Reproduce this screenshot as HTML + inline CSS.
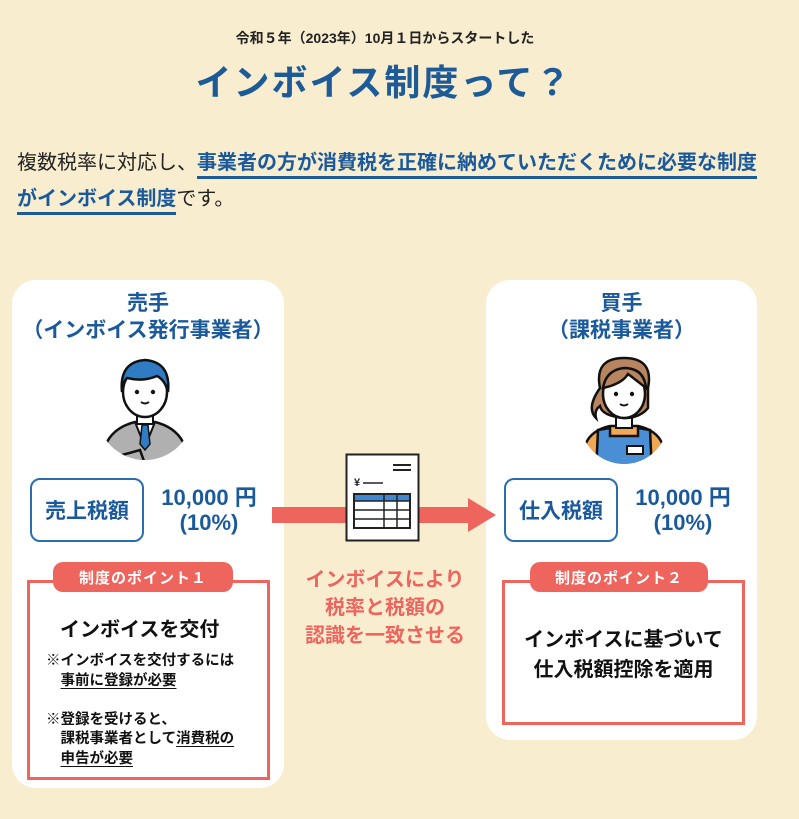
<!DOCTYPE html>
<html><head><meta charset="utf-8">
<style>
*{margin:0;padding:0;box-sizing:border-box}
body{width:799px;height:819px;background:#f8edcf;position:relative;overflow:hidden;font-family:"Liberation Sans","Noto Sans CJK JP",sans-serif;font-weight:bold}
.a{position:absolute;white-space:nowrap}
.blue{color:#1a5a9c}
.red{color:#ee655e}
.card{position:absolute;background:#fff;border-radius:24px}
.tbox{position:absolute;border:2px solid #2a6db0;border-radius:10px;background:#fff;color:#1a5a9c;font-size:20px;display:flex;align-items:center;justify-content:center}
.pbox{position:absolute;border:3px solid #ee655e;background:#fff}
.pill{position:absolute;background:#ee655e;color:#fff;border-radius:10px;font-size:15px;display:flex;align-items:center;justify-content:center;letter-spacing:1px}
.c{text-align:center}
u{text-decoration:underline;text-underline-offset:3px}
</style></head><body>
<div class="a c" style="left:0;width:770px;top:28px;font-size:14px;color:#222">令和５年（2023年）10月１日からスタートした</div>
<div class="a c blue" style="left:0;width:768px;top:54px;font-size:36px;letter-spacing:2px;color:#1c5a98">インボイス制度って？</div>
<div class="a" style="left:17px;top:145px;font-size:20px;font-weight:normal;color:#222;line-height:36px">複数税率に対応し、<span class="blue" style="font-weight:bold;border-bottom:3px solid #1c5a98;padding-bottom:2px">事業者の方が消費税を正確に納めていただくために必要な制度</span><br><span class="blue" style="font-weight:bold;border-bottom:3px solid #1c5a98;padding-bottom:2px">がインボイス制度</span>です。</div>

<div class="card" style="left:12px;top:280px;width:272px;height:508px"></div>
<div class="card" style="left:486px;top:280px;width:271px;height:460px"></div>

<div class="a c blue" style="left:12px;width:272px;top:290px;font-size:21px;line-height:27px">売手<br>（インボイス発行事業者）</div>
<div class="a c blue" style="left:486px;width:271px;top:290px;font-size:21px;line-height:27px">買手<br>（課税事業者）</div>

<!-- man -->
<svg class="a" style="left:95px;top:352px" width="100" height="120" viewBox="0 0 100 120">
<defs><clipPath id="cm"><circle cx="50" cy="60" r="48"/></clipPath></defs>
<g clip-path="url(#cm)">
<path d="M8 120 L12 90 Q20 75 40 70 L60 70 Q80 75 88 90 L92 120Z" fill="#b0b0b0" stroke="#111" stroke-width="2.5"/>
<path d="M40 70 L50 95 L60 70Z" fill="#fff" stroke="#111" stroke-width="2"/>
<path d="M47 73 L53 73 L55 92 L50 98 L45 92Z" fill="#2f7cc4" stroke="#111" stroke-width="1.5"/>
<path d="M20 105 L45 98 L50 112 L28 118Z" fill="#b0b0b0" stroke="#111" stroke-width="2.5"/>
</g>
<rect x="42" y="58" width="16" height="14" fill="#fff" stroke="#111" stroke-width="2"/>
<ellipse cx="50" cy="40" rx="22" ry="25" fill="#fff" stroke="#111" stroke-width="2.5"/>
<path d="M27 40 Q24 10 50 8 Q76 10 73 40 Q70 28 62 24 Q48 30 32 26 Q28 30 27 40Z" fill="#2f7cc4" stroke="#111" stroke-width="2.5"/>
<circle cx="42" cy="40" r="2.2" fill="#111"/><circle cx="58" cy="40" r="2.2" fill="#111"/>
<path d="M46 50 Q50 53 54 50" stroke="#111" stroke-width="2" fill="none"/>
</svg>

<!-- woman -->
<svg class="a" style="left:582px;top:348px" width="84" height="125" viewBox="0 0 84 125">
<defs><clipPath id="cw"><circle cx="42" cy="72" r="44"/></clipPath></defs>
<g clip-path="url(#cw)">
<path d="M0 125 L4 95 Q10 82 28 78 L56 78 Q74 82 80 95 L84 125Z" fill="#f0a854" stroke="#111" stroke-width="2.5"/>
<path d="M14 125 L16 82 L28 80 L28 88 L56 88 L56 80 L68 82 L70 125Z" fill="#4a8fd6" stroke="#111" stroke-width="2.5"/>
<rect x="45" y="98" width="16" height="8" fill="#fff" stroke="#111" stroke-width="2"/>
</g>
<rect x="34" y="64" width="16" height="16" fill="#fff" stroke="#111" stroke-width="2"/>
<path d="M18 40 Q12 10 42 10 Q72 10 66 40 L66 60 Q58 70 42 70 Q20 68 18 58 Q12 62 14 70 Q4 60 18 40Z" fill="#b88560" stroke="#111" stroke-width="2.5"/>
<ellipse cx="42" cy="46" rx="21" ry="24" fill="#fff" stroke="#111" stroke-width="2.5"/>
<path d="M21 40 Q24 22 42 20 Q62 20 64 40 Q54 32 46 26 Q40 36 21 40Z" fill="#b88560" stroke="#111" stroke-width="2.5"/>
<circle cx="34" cy="46" r="2.2" fill="#111"/><circle cx="50" cy="46" r="2.2" fill="#111"/>
<path d="M38 56 Q42 59 46 56" stroke="#111" stroke-width="2" fill="none"/>
</svg>

<div class="tbox" style="left:30px;top:478px;width:114px;height:64px;font-size:21px">売上税額</div>
<div class="a c blue" style="left:148px;width:122px;top:485px;font-size:22px;line-height:25px">10,000 円<br>(10%)</div>
<div class="tbox" style="left:504px;top:478px;width:114px;height:64px;font-size:21px">仕入税額</div>
<div class="a c blue" style="left:622px;width:122px;top:485px;font-size:22px;line-height:25px">10,000 円<br>(10%)</div>

<!-- arrow -->
<svg class="a" style="left:272px;top:496px" width="226" height="38">
<rect x="0" y="11" width="200" height="16" fill="#ee655e"/>
<path d="M196 2 L224 19 L196 36Z" fill="#ee655e"/>
</svg>
<!-- doc -->
<svg class="a" style="left:345px;top:453px" width="76" height="90">
<rect x="1.5" y="1.5" width="72" height="86" fill="#fff" stroke="#222" stroke-width="2"/>
<line x1="48" y1="12" x2="66" y2="12" stroke="#222" stroke-width="2"/>
<line x1="48" y1="17" x2="66" y2="17" stroke="#222" stroke-width="2"/>
<text x="9" y="33" font-size="11" font-family="Liberation Sans" font-weight="bold" fill="#222">¥</text>
<line x1="18" y1="30" x2="38" y2="30" stroke="#222" stroke-width="1.5"/>
<rect x="9" y="41" width="56" height="34" fill="#fff" stroke="#222" stroke-width="2"/>
<rect x="10" y="42" width="54" height="6" fill="#3f87d0"/>
<line x1="9" y1="48" x2="65" y2="48" stroke="#222" stroke-width="1.5"/>
<line x1="9" y1="57" x2="65" y2="57" stroke="#222" stroke-width="1.5"/>
<line x1="9" y1="66" x2="65" y2="66" stroke="#222" stroke-width="1.5"/>
<line x1="39" y1="41" x2="39" y2="75" stroke="#222" stroke-width="1.5"/>
<line x1="52" y1="41" x2="52" y2="75" stroke="#222" stroke-width="1.5"/>
</svg>
<div class="a c red" style="left:290px;width:190px;top:566px;font-size:20px;line-height:28px">インボイスにより<br>税率と税額の<br>認識を一致させる</div>

<div class="pbox" style="left:27px;top:580px;width:243px;height:200px"></div>
<div class="pill" style="left:53px;top:562px;width:180px;height:30px">制度のポイント１</div>
<div class="a" style="left:60px;top:613px;font-size:20px;color:#111">インボイスを交付</div>
<div class="a" style="left:46px;top:652px;font-size:14.5px;color:#111;line-height:19.5px">※インボイスを交付するには<br>　<u>事前に登録が必要</u><br><br>※登録を受けると、<br>　課税事業者として<u>消費税の</u><br>　<u>申告が必要</u></div>

<div class="pbox" style="left:502px;top:580px;width:243px;height:145px"></div>
<div class="pill" style="left:530px;top:562px;width:178px;height:30px">制度のポイント２</div>
<div class="a c" style="left:502px;width:243px;top:625px;font-size:20px;color:#111;line-height:30px">インボイスに基づいて<br>仕入税額控除を適用</div>
</body></html>
